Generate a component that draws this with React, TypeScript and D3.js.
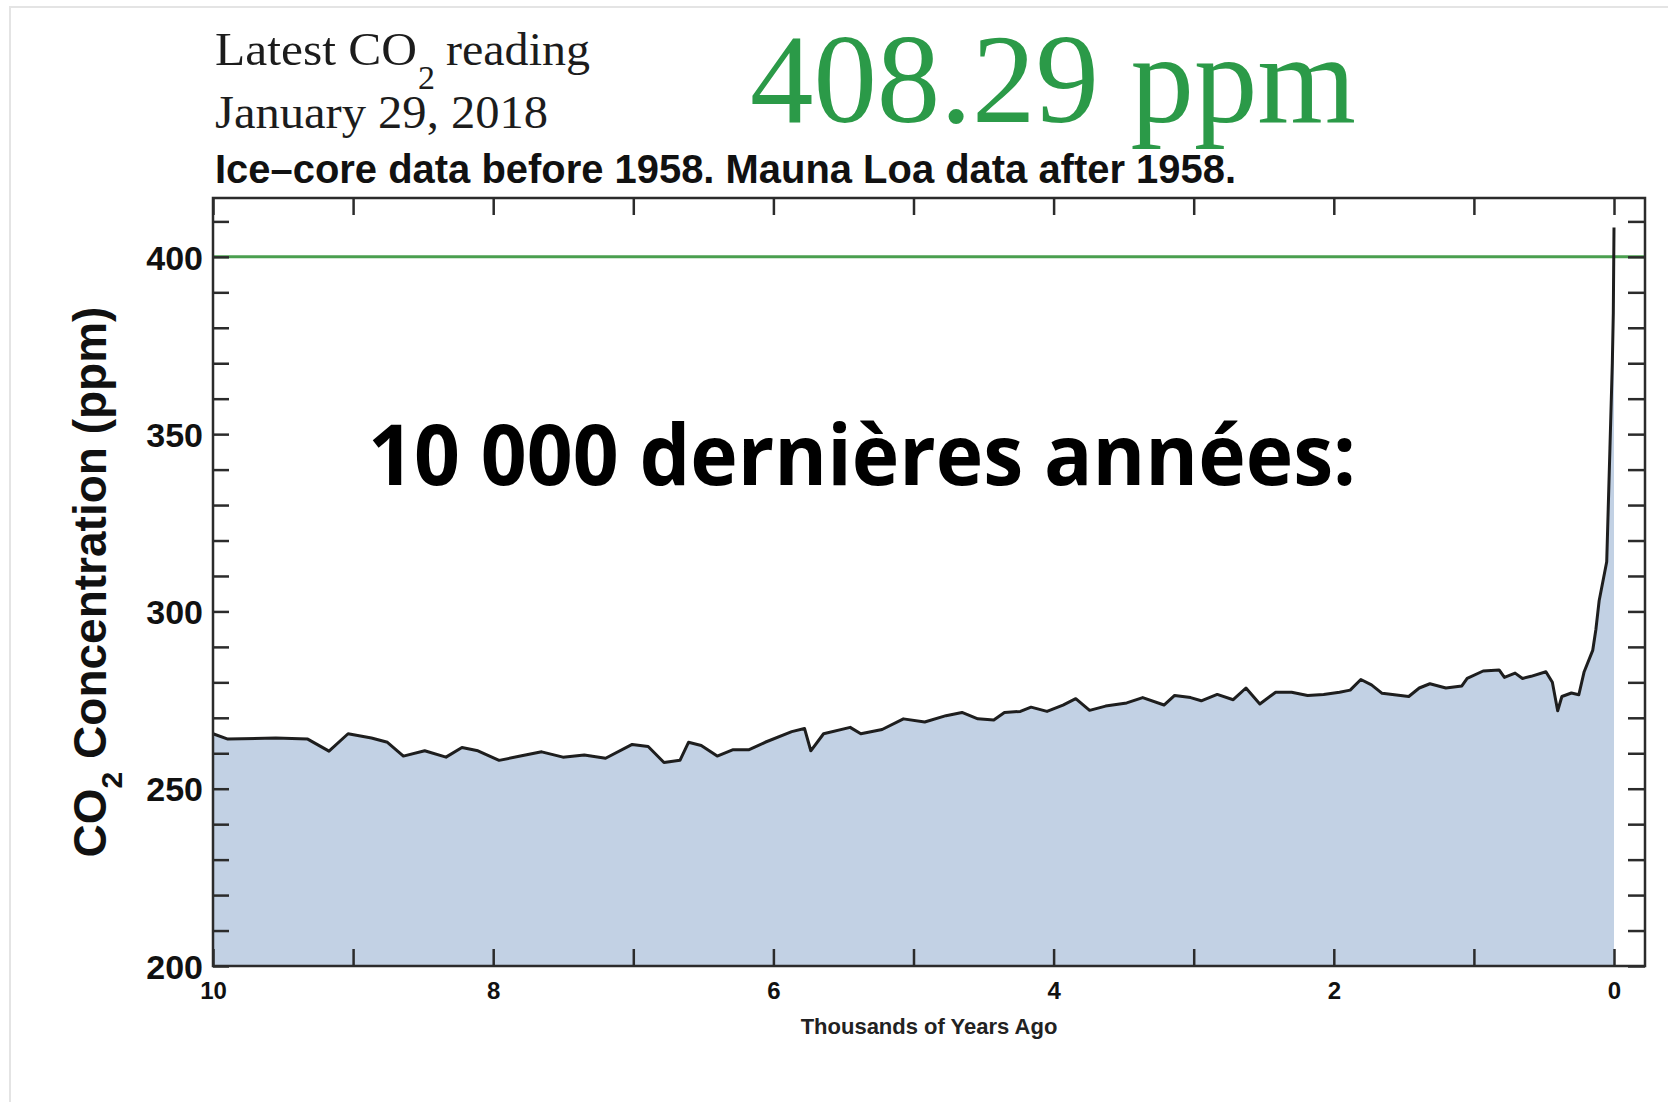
import React, { useEffect, useRef } from 'react'
import * as d3 from 'd3'

// thousands of years ago / CO2 ppm
const kyrAgo = [
  10.0, 9.894, 9.552, 9.324, 9.172, 9.036, 8.869, 8.755, 8.641, 8.489, 8.337, 8.223, 8.109,
  7.958, 7.806, 7.654, 7.502, 7.35, 7.198, 7.008, 6.894, 6.781, 6.667, 6.606, 6.515, 6.401,
  6.287, 6.173, 6.059, 5.869, 5.778, 5.733, 5.642, 5.452, 5.376, 5.224, 5.072, 4.92, 4.768,
  4.654, 4.541, 4.427, 4.351, 4.237, 4.161, 4.047, 3.933, 3.842, 3.743, 3.629, 3.478, 3.364,
  3.212, 3.136, 3.022, 2.946, 2.832, 2.718, 2.627, 2.528, 2.415, 2.301, 2.187, 2.073, 1.959,
  1.883, 1.807, 1.731, 1.655, 1.465, 1.39, 1.314, 1.2, 1.086, 1.048, 0.934, 0.82, 0.782,
  0.706, 0.653, 0.592, 0.486, 0.44, 0.402, 0.372, 0.304, 0.251, 0.213, 0.152, 0.129, 0.106,
  0.052, 0.029, 0.012, 0.005, 0.0,
]
const ppm = [
  265.5, 264, 264.3, 264, 260.6, 265.5, 264.3, 263.1, 259.2, 260.7, 258.9, 261.6, 260.7,
  258, 259.2, 260.4, 258.9, 259.5, 258.6, 262.5, 261.9, 257.4, 258, 263.1, 262.2, 259.2,
  261, 261, 263.1, 266.1, 267, 260.7, 265.5, 267.3, 265.5, 266.7, 269.7, 268.8, 270.6,
  271.5, 269.7, 269.4, 271.5, 271.8, 273, 271.8, 273.6, 275.4, 272.1, 273.3, 274.2, 275.7,
  273.6, 276.3, 275.7, 274.8, 276.6, 275.1, 278.4, 273.9, 277.2, 277.2, 276.3, 276.6, 277.2,
  277.8, 280.8, 279.3, 276.9, 276, 278.4, 279.6, 278.4, 279, 281.1, 283.2, 283.5, 281.4,
  282.6, 281.1, 281.7, 283, 280, 272, 276, 277, 276.5, 283, 289, 295, 303,
  314, 346, 370, 384, 408.3,
]

const yLabels = [200, 250, 300, 350, 400]
const xLabels = [10, 8, 6, 4, 2, 0]
const refLevel = 400
const latest = '408.29 ppm'

export default function App() {
  const ref = useRef(null)

  useEffect(() => {
    const svg = d3.select(ref.current)
    svg.selectAll('*').remove()

    const x = d3.scaleLinear().domain([10, 0]).range([213, 1614])
    const y = d3.scaleLinear().domain([200, 416.6]).range([966, 198])
    const data = kyrAgo.map((k, i) => [k, ppm[i]])

    // page edge
    svg.append('path').attr('d', 'M10,1102V7H1668').attr('fill', 'none')
      .attr('stroke', '#e4e4e4').attr('stroke-width', 2)

    // area + line
    svg.append('path').datum(data)
      .attr('d', d3.area().x(d => x(d[0])).y0(y(200)).y1(d => y(d[1])))
      .attr('fill', '#c2d1e4')
    svg.append('line')
      .attr('x1', 213).attr('x2', 1645).attr('y1', y(refLevel)).attr('y2', y(refLevel))
      .attr('stroke', '#4a9f4f').attr('stroke-width', 3)
    svg.append('path').datum(data)
      .attr('d', d3.line().x(d => x(d[0])).y(d => y(d[1])))
      .attr('fill', 'none').attr('stroke', '#1e1e1e').attr('stroke-width', 3)
      .attr('stroke-linejoin', 'round')

    // axes, ticks inward
    const yt = d3.range(200, 417, 10)
    const xt = d3.range(0, 11, 1)
    const left = svg.append('g').attr('transform', 'translate(213,0)')
      .call(d3.axisLeft(y).tickValues(yt).tickSize(-16).tickPadding(10)
        .tickFormat(d => yLabels.includes(d) ? String(d) : ''))
    const right = svg.append('g').attr('transform', 'translate(1645,0)')
      .call(d3.axisRight(y).tickValues(yt).tickSize(-17).tickFormat(() => ''))
    const bottom = svg.append('g').attr('transform', 'translate(0,966)')
      .call(d3.axisBottom(x).tickValues(xt).tickSize(-17).tickPadding(16)
        .tickFormat(d => xLabels.includes(d) ? String(d) : ''))
    const top = svg.append('g').attr('transform', 'translate(0,198)')
      .call(d3.axisTop(x).tickValues(xt).tickSize(-17).tickFormat(() => ''))
    for (const g of [left, right, bottom, top]) {
      g.select('.domain').remove()
      g.selectAll('line').attr('stroke', '#2b2b2b').attr('stroke-width', 2.5)
      g.selectAll('text').attr('fill', '#111')
        .attr('font-family', '"Liberation Sans", Arial, sans-serif').attr('font-weight', 'bold')
    }
    left.selectAll('text').attr('font-size', 34).attr('dy', '0.36em')
    bottom.selectAll('text').attr('font-size', 24)

    svg.append('rect').attr('x', 213).attr('y', 198).attr('width', 1432).attr('height', 768)
      .attr('fill', 'none').attr('stroke', '#2b2b2b').attr('stroke-width', 2.5)

    // axis titles
    svg.append('text').attr('x', 929).attr('y', 1034).attr('text-anchor', 'middle')
      .attr('font-family', '"Liberation Sans", Arial, sans-serif').attr('font-weight', 'bold')
      .attr('font-size', 22).attr('fill', '#222').text('Thousands of Years Ago')

    const yl = svg.append('text').attr('transform', 'translate(106,582) rotate(-90)')
      .attr('text-anchor', 'middle')
      .attr('font-family', '"Liberation Sans", Arial, sans-serif').attr('font-weight', 'bold')
      .attr('font-size', 46).attr('fill', '#111')
    yl.append('tspan').text('CO')
    yl.append('tspan').attr('font-size', 30).attr('dy', 16).text('2')
    yl.append('tspan').attr('dy', -16).text(' Concentration (ppm)')

    // header
    const serif = '"Liberation Serif", "Times New Roman", serif'
    svg.append('text').attr('x', 215).attr('y', 65).attr('font-family', serif)
      .attr('font-size', 47).attr('fill', '#1c1c1c')
      .attr('textLength', 202).attr('lengthAdjust', 'spacingAndGlyphs').text('Latest CO')
    svg.append('text').attr('x', 418).attr('y', 89).attr('font-family', serif)
      .attr('font-size', 34).attr('fill', '#1c1c1c').text('2')
    svg.append('text').attr('x', 446).attr('y', 65).attr('font-family', serif)
      .attr('font-size', 47).attr('fill', '#1c1c1c')
      .attr('textLength', 144).attr('lengthAdjust', 'spacingAndGlyphs').text('reading')
    svg.append('text').attr('x', 215).attr('y', 128).attr('font-family', serif)
      .attr('font-size', 47).attr('fill', '#1c1c1c')
      .attr('textLength', 333).attr('lengthAdjust', 'spacingAndGlyphs').text('January 29, 2018')
    svg.append('text').attr('x', 750).attr('y', 122).attr('font-family', serif)
      .attr('font-size', 128).attr('fill', '#2b9a48')
      .attr('textLength', 606).attr('lengthAdjust', 'spacingAndGlyphs').text(latest)
    svg.append('text').attr('x', 215).attr('y', 183)
      .attr('font-family', '"Liberation Sans", Arial, sans-serif').attr('font-weight', 'bold')
      .attr('font-size', 40).attr('fill', '#111')
      .attr('textLength', 1021).attr('lengthAdjust', 'spacingAndGlyphs')
      .text('Ice\u2013core data before 1958. Mauna Loa data after 1958.')

    // overlay caption
    svg.append('text').attr('x', 368).attr('y', 485)
      .attr('font-family', '"Open Sans", sans-serif').attr('font-weight', 'bold')
      .attr('font-size', 84).attr('fill', '#000')
      .attr('textLength', 988).attr('lengthAdjust', 'spacingAndGlyphs')
      .text('10 000 dernières années:')
  }, [])

  return (
    <svg ref={ref} width={1668} height={1102}
      style={{ position: 'absolute', left: 0, top: 0, background: '#fff' }} />
  )
}
